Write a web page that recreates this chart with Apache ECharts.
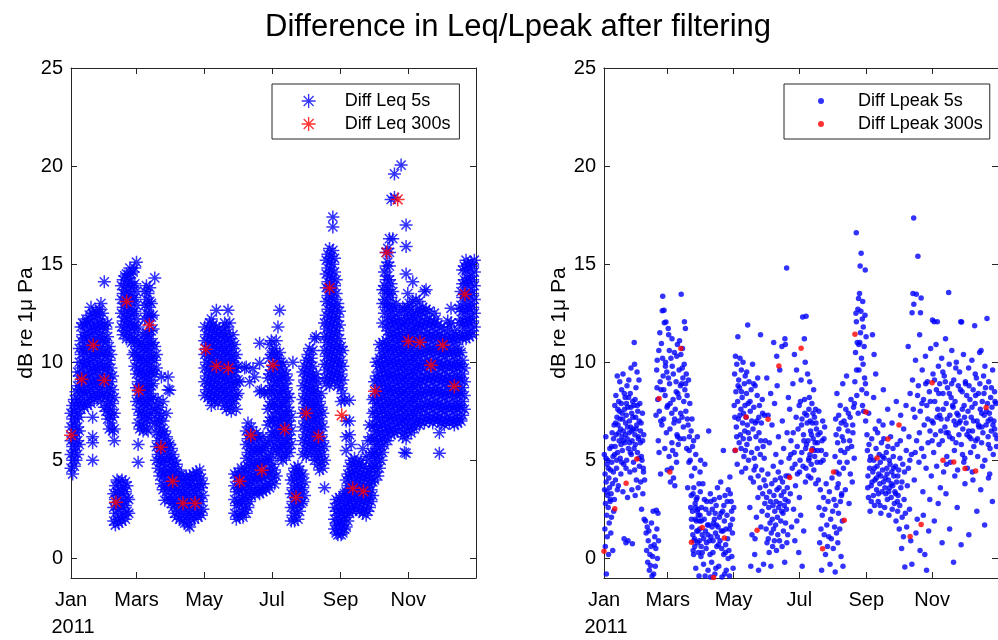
<!DOCTYPE html>
<html>
<head>
<meta charset="utf-8">
<script src="https://cdn.jsdelivr.net/npm/echarts@6/dist/echarts.min.js"></script>
<style>
  html, body { margin: 0; padding: 0; background: #ffffff; }
  #chart { width: 998px; height: 640px; }
</style>
</head>
<body>
<div id="chart"></div>
<script>
// Days are counted from 1 Jan 2011 (day 0) to 1 Jan 2012 (day 365).
const monthTicks = [0, 59, 120, 181, 243, 304];
const monthLabels = ['Jan', 'Mars', 'May', 'Jul', 'Sep', 'Nov'];
const yTicks = [0, 5, 10, 15, 20, 25];
const yearLabel = '2011';

// Diff Leq 5s: each column is [day, value, value, ...]
const leq5Jan = [
  [0, 4.6, 5.3, 6.0, 6.7, 7.4], [1.5, 4.3, 5.0, 5.7, 6.4, 7.1, 7.8], [3, 4.7, 5.4, 6.1, 6.8, 7.5, 8.1],
  [4.5, 5.0, 5.7, 6.4, 7.1, 7.8, 8.5], [6, 5.3, 6.0, 6.7, 7.4, 8.1, 8.8, 9.5],
  [7.5, 5.8, 6.5, 7.2, 7.9, 8.6, 9.3, 10.0, 10.7], [9, 7.6, 8.3, 9.0, 9.7, 10.4, 11.1, 11.8],
  [10.5, 7.9, 8.6, 9.3, 10.0, 10.7, 11.4, 12.0], [12, 7.7, 8.4, 9.1, 9.8, 10.5, 11.2, 11.9],
  [13.5, 8.0, 8.7, 9.4, 10.1, 10.8, 11.5, 12.2], [15, 7.8, 8.5, 9.2, 9.9, 10.6, 11.3, 12.0],
  [16.5, 8.2, 8.9, 9.6, 10.3, 11.0, 11.7, 12.4], [18, 7.9, 8.6, 9.3, 10.0, 10.7, 11.4, 12.1, 12.8],
  [19.5, 5.0, 5.9, 6.2, 7.2, 8.3, 9.0, 9.7, 10.4, 11.1, 11.8, 12.5], [21, 8.1, 8.8, 9.5, 10.2, 10.9, 11.6, 12.3],
  [22.5, 8.4, 9.1, 9.8, 10.5, 11.2, 11.9, 12.6], [24, 8.2, 8.9, 9.6, 10.3, 11.0, 11.7, 12.4],
  [25.5, 8.5, 9.2, 9.9, 10.6, 11.3, 12.0, 12.7], [27, 8.0, 8.7, 9.4, 10.1, 10.8, 11.5, 12.2, 13.0],
  [28.5, 8.3, 9.0, 9.7, 10.4, 11.1, 11.8, 12.5], [30, 7.7, 8.4, 9.1, 9.8, 10.5, 11.2, 11.9, 14.1]
];
const leq5Feb = [
  [31.5, 7.5, 8.2, 8.9, 9.6, 10.3, 11.0, 11.7], [33, 7.1, 7.8, 8.5, 9.2, 9.9, 10.6, 11.3, 12.0],
  [34.5, 6.6, 7.3, 8.0, 8.7, 9.4, 10.1, 10.8], [36, 6.9, 7.6, 8.3, 9.0, 9.7, 10.4],
  [37.5, 6.5, 7.2, 7.9, 8.6, 9.3], [39, 6.0, 6.6, 7.4, 8.2],
  [38.5, 1.9, 2.6, 3.3], [40, 1.7, 2.3, 3.0, 3.7], [41.5, 2.0, 2.7, 3.4, 4.0], [43, 1.8, 2.5, 3.2, 3.9],
  [44.5, 2.1, 2.8, 3.5], [46, 1.9, 2.6, 3.3, 4.0], [47.5, 2.2, 2.9, 3.6], [49, 2.0, 2.7, 3.4, 3.9],
  [50.5, 2.4, 3.1, 3.7], [52, 2.3, 3.0],
  [45.5, 11.8, 12.5, 13.2, 13.9], [47, 11.4, 12.1, 12.8, 13.5, 14.2], [48.5, 11.6, 12.3, 13.0, 13.7, 14.4],
  [50, 11.2, 11.9, 12.6, 13.3, 14.0, 14.5], [51.5, 11.5, 12.2, 12.9, 13.6, 14.3],
  [53, 11.3, 12.0, 12.7, 13.4, 14.1, 14.8], [54.5, 11.0, 11.7, 12.4, 13.1, 13.8, 14.5],
  [56, 10.4, 11.1, 11.8, 12.5, 13.2, 13.9, 14.6], [57.5, 9.8, 10.5, 11.2, 11.9, 12.6, 13.3, 14.0, 14.8]
];
const leq5Mar = [
  [59, 8.0, 8.7, 9.4, 10.1, 10.8, 11.5, 12.2, 12.9, 13.6, 15.1],
  [60.5, 4.9, 5.8, 6.9, 7.6, 8.3, 9.0, 9.7, 10.4, 11.1, 11.8], [62, 6.6, 7.3, 8.0, 8.7, 9.4, 10.1, 10.8],
  [63.5, 6.8, 7.5, 8.2, 8.9, 9.6, 10.3, 11.0], [65, 6.5, 7.2, 7.9, 8.6, 9.3, 10.0, 10.7, 11.4],
  [66.5, 6.9, 7.6, 8.3, 9.0, 9.7, 10.4, 11.1, 12.2, 12.9, 13.6],
  [68, 6.6, 7.3, 8.0, 8.7, 9.4, 10.1, 10.8, 11.5, 12.5, 13.2, 13.9],
  [69.5, 6.5, 7.2, 7.9, 8.6, 9.3, 10.0, 10.7, 11.4, 12.1, 12.8, 13.5],
  [71, 7.0, 7.7, 8.4, 9.1, 9.8, 10.5, 11.2, 12.4, 13.1, 13.8],
  [72.5, 7.4, 8.1, 8.8, 9.5, 10.2, 10.9, 11.6, 12.3, 13.0], [74, 8.2, 8.9, 9.6, 10.3, 11.0, 11.7, 12.4],
  [75.5, 6.9, 7.6, 9.4, 10.1, 10.8, 14.3], [77, 5.0, 5.7, 6.4, 7.1, 7.8, 9.7, 10.4],
  [78.5, 4.6, 5.3, 6.0, 6.7, 7.4, 8.1], [80, 4.2, 4.9, 5.6, 6.3, 7.0, 7.7],
  [81.5, 3.8, 4.5, 5.2, 5.9, 6.6, 7.3, 9.25], [83, 3.5, 4.2, 4.9, 5.6, 6.3, 7.0, 8.0],
  [84.5, 2.96, 3.7, 4.4, 5.1, 5.8, 6.5], [86, 3.4, 4.1, 4.8, 5.5, 6.2, 7.4],
  [87.5, 3.1, 3.8, 4.5, 5.2, 5.9, 9.25, 8.6], [89, 3.0, 3.7, 4.4, 5.1, 5.8, 8.57]
];
const leq5Apr = [
  [90.5, 2.8, 3.5, 4.2, 4.9, 5.6], [92, 2.6, 3.3, 4.0, 4.7, 5.3], [93.5, 2.3, 3.0, 3.7, 4.4, 5.0],
  [95, 2.1, 2.8, 3.5, 4.2, 4.8], [96.5, 2.4, 3.1, 3.8, 4.5], [98, 2.0, 2.7, 3.4, 4.1],
  [99.5, 2.2, 2.9, 3.6, 4.3], [101, 1.9, 2.6, 3.3, 4.0], [102.5, 1.8, 2.5, 3.2, 3.9],
  [104, 2.1, 2.8, 3.5, 4.2], [105.5, 1.7, 2.4, 3.1, 3.8], [107, 1.6, 2.3, 3.0, 3.7, 4.2],
  [108.5, 2.0, 2.7, 3.4, 4.0], [110, 2.2, 2.9, 3.6, 4.3], [111.5, 2.0, 2.6, 3.3, 4.0],
  [113, 2.3, 3.0, 3.7, 4.4], [114.5, 2.1, 2.8, 3.5, 4.2], [116, 2.4, 3.1, 3.8, 4.5],
  [117.5, 2.2, 2.9, 3.6, 4.1], [119, 2.5, 3.2, 3.8]
];
const leq5May = [
  [120.5, 8.3, 9.0, 9.7, 10.4, 11.1, 11.8], [122, 8.6, 9.3, 10.0, 10.7, 11.4],
  [123.5, 8.2, 8.9, 9.6, 10.3, 11.0, 11.7], [125, 8.5, 9.2, 9.9, 10.6, 11.3, 12.0],
  [126.5, 7.8, 8.1, 8.8, 9.5, 10.2, 10.9, 11.6, 12.2], [128, 8.4, 9.1, 9.8, 10.5, 11.2, 11.9],
  [129.5, 8.0, 8.7, 9.4, 10.1, 10.8, 11.5], [131, 8.3, 9.0, 9.7, 10.4, 11.1, 11.8, 12.65],
  [132.5, 7.9, 8.6, 9.3, 10.0, 10.7, 11.4], [134, 8.2, 8.9, 9.6, 10.3, 11.0, 11.7],
  [135.5, 8.5, 9.2, 9.9, 10.6, 11.3], [137, 8.1, 8.8, 9.5, 10.2, 10.9, 11.6],
  [138.5, 7.8, 8.5, 9.2, 9.9, 10.6, 11.3, 12.0], [140, 7.6, 8.3, 9.0, 9.7, 10.4, 11.1, 11.8],
  [141.5, 8.0, 8.7, 9.4, 10.1, 10.8, 11.5, 12.65], [143, 7.7, 8.4, 9.1, 9.8, 10.5, 11.2, 12.0],
  [144.5, 7.5, 8.2, 8.9, 9.6, 10.3, 11.0], [146, 7.9, 8.6, 9.3, 10.0, 10.7, 11.4],
  [147.5, 8.1, 8.8, 9.5, 10.2, 10.9, 2.3, 3.0, 3.7, 4.3], [149, 7.6, 8.3, 9.0, 9.7, 10.4, 2.0, 2.7, 3.4, 4.1],
  [150.5, 8.4, 9.1, 9.8, 2.2, 2.9, 3.6, 4.4]
];
const leq5Jun = [
  [152, 2.1, 2.8, 3.5, 4.2, 9.0], [153.5, 2.4, 3.1, 3.8, 4.6], [155, 2.1, 2.8, 3.5, 4.2],
  [156.5, 2.5, 3.2, 3.9, 4.6, 9.7], [158, 2.3, 3.0, 3.7, 4.4, 5.1, 5.8, 6.5, 9.76],
  [159.5, 2.6, 3.3, 4.0, 4.7, 5.4, 6.1, 6.9], [161, 2.9, 3.6, 4.3, 5.0, 5.7, 6.4, 9.0],
  [162.5, 3.2, 3.9, 4.6, 5.3, 6.0, 6.7], [164, 3.5, 4.2, 4.9, 5.6, 6.3, 9.68],
  [165.5, 3.3, 4.0, 4.7, 5.4, 6.1, 9.25], [167, 3.6, 4.3, 5.0, 5.7, 6.4], [168.5, 3.4, 4.1, 4.8, 5.5, 6.2],
  [170, 3.3, 4.0, 4.7, 5.4, 6.1, 8.5, 9.95, 10.97], [171.5, 3.6, 4.3, 5.0, 5.7, 8.57],
  [173, 3.4, 4.1, 4.8, 5.5, 6.2], [174.5, 3.7, 4.4, 5.1, 5.8, 8.4], [176, 3.5, 4.2, 4.9, 5.6],
  [177.5, 3.8, 4.5, 5.2, 5.9, 6.8, 7.6, 8.4, 9.2], [179, 3.6, 4.3, 5.0, 6.0, 7.0, 7.8, 8.6, 9.4, 10.2, 10.9]
];
const leq5Jul = [
  [180.5, 3.9, 4.6, 5.3, 6.4, 7.2, 8.0, 8.8, 9.6, 10.4, 11.1], [182, 4.1, 4.8, 5.6, 6.3, 7.0, 7.7, 8.4, 9.1, 9.8, 10.5],
  [183.5, 3.8, 4.5, 5.8, 6.5, 7.2, 7.9, 8.6, 9.3, 10.0, 10.7], [185, 4.2, 5.5, 6.2, 6.9, 7.6, 8.3, 9.0, 9.7, 10.4, 11.1],
  [186.5, 5.3, 6.0, 6.7, 7.4, 8.1, 8.8, 9.5, 10.2, 11.8], [188, 5.6, 6.3, 7.0, 7.7, 8.4, 9.1, 9.8, 10.5, 12.65],
  [189.5, 5.1, 5.8, 6.5, 7.2, 7.9, 8.6, 9.3, 10.0], [191, 5.0, 5.7, 6.4, 7.1, 7.8, 8.5, 9.2, 9.9],
  [192.5, 5.4, 6.1, 6.8, 7.5, 8.2, 8.9, 9.6], [194, 5.2, 5.9, 6.6, 7.3, 8.0, 8.7, 9.4],
  [195.5, 5.6, 6.3, 7.0, 7.7, 8.4, 9.1], [197, 5.4, 6.1, 6.8, 7.5, 8.2],
  [198.5, 5.8, 6.5, 7.2, 1.9, 2.6, 3.3, 4.0], [200, 2.2, 2.9, 3.6, 4.3, 10.0],
  [201.5, 1.9, 2.6, 3.3, 4.0, 4.6], [203, 2.3, 3.0, 3.7, 4.4], [204.5, 2.0, 2.7, 3.4, 4.1, 4.7],
  [206, 2.4, 3.1, 3.8, 4.5], [207.5, 2.8, 3.5, 4.2],
  [209, 2.9, 3.6, 4.3, 5.3, 6.0, 6.7, 7.4, 8.1, 8.8, 9.5], [210.5, 3.2, 3.9, 5.6, 6.3, 7.0, 7.7, 8.4, 9.1, 9.8]
];
const leq5Aug = [
  [212, 5.2, 5.9, 6.6, 7.3, 8.0, 8.7, 9.4, 10.1], [213.5, 5.5, 6.2, 6.9, 7.6, 8.3, 9.0, 9.7, 10.4],
  [215, 5.8, 6.5, 7.2, 7.9, 8.6, 9.3, 10.0, 10.7], [216.5, 5.3, 6.0, 6.7, 7.4, 8.1, 8.8, 9.5, 10.2],
  [218, 5.6, 6.3, 7.0, 7.7, 8.4, 9.1, 9.8, 10.6], [219.5, 5.0, 5.7, 6.4, 7.1, 7.8, 8.5, 9.2, 11.2],
  [221, 5.2, 5.9, 6.6, 7.3, 8.0, 8.7, 9.4, 11.3], [222.5, 4.8, 5.5, 6.2, 6.9, 7.6, 8.3, 9.0],
  [224, 4.5, 5.2, 5.9, 6.6, 7.3, 8.0], [225.5, 4.9, 5.6, 6.3, 7.0, 7.7, 8.4], [227, 4.6, 5.3, 6.0, 6.7, 7.4],
  [228.5, 3.6, 5.0, 5.7, 9.2, 9.9, 10.6, 11.3, 12.0],
  [230, 8.9, 9.6, 10.3, 11.0, 11.7, 12.4, 13.1, 13.8, 14.5, 15.2],
  [231.5, 9.2, 9.9, 10.6, 11.3, 12.0, 12.7, 13.4, 14.1, 14.8, 15.5],
  [233, 8.8, 9.5, 10.2, 10.9, 11.6, 12.3, 13.0, 13.7, 14.4, 15.1, 15.8],
  [234.5, 9.1, 9.8, 10.5, 11.2, 11.9, 12.6, 13.3, 14.0, 14.7, 15.4],
  [236, 9.4, 10.1, 10.8, 11.5, 12.2, 12.9, 13.6, 14.3, 15.0, 15.7, 16.9, 17.4],
  [237.5, 9.0, 9.7, 10.4, 11.1, 11.8, 12.5, 13.2, 13.9, 14.6, 15.3, 1.5, 2.0, 2.6],
  [239, 9.3, 10.0, 10.7, 11.4, 12.1, 12.8, 13.5, 14.2, 1.3, 1.8, 2.4, 3.0],
  [240.5, 8.8, 9.5, 10.2, 10.9, 11.6, 12.3, 13.0, 1.2, 1.7, 2.2, 2.8],
  [242, 9.1, 9.8, 10.5, 11.2, 11.9, 12.6, 1.4, 1.9, 2.5, 3.1]
];
const leq5Sep = [
  [243.5, 8.0, 8.7, 9.4, 10.1, 10.8, 1.2, 1.7, 2.3, 2.9], [245, 8.4, 9.1, 9.8, 10.6, 1.3, 1.9, 2.5, 3.2],
  [246.5, 8.06, 1.5, 2.1, 2.7, 3.3], [248, 5.5, 6.2, 7.0, 1.6, 2.2, 2.8, 3.4, 4.0],
  [249.5, 1.9, 2.5, 3.1, 3.7, 4.3], [251, 8.06, 7.0, 6.3, 2.3, 2.9, 3.5, 4.1, 4.7],
  [252.5, 2.6, 3.2, 3.8, 4.4, 5.0, 5.8], [254, 2.4, 3.0, 3.6, 4.2, 4.8], [255.5, 2.7, 3.3, 3.9, 4.5, 5.1],
  [257, 2.5, 3.1, 3.7, 4.3, 4.9], [258.5, 2.8, 3.4, 4.0, 4.6], [260, 2.4, 3.0, 3.6, 4.2, 4.8],
  [261.5, 2.6, 3.2, 3.8, 4.4, 5.0], [263, 2.3, 2.9, 3.5, 4.1, 4.7, 5.6], [264.5, 2.5, 3.1, 3.7, 4.3],
  [266, 2.2, 2.8, 3.4, 4.0, 4.6, 5.2], [267.5, 2.4, 3.0, 3.6, 4.2, 6.0], [269, 2.6, 3.2, 3.8, 4.4, 5.0, 6.8],
  [270.5, 2.9, 3.5, 4.1, 4.7, 5.4, 6.2], [272, 3.2, 3.9, 4.6, 5.3, 6.0, 6.7, 7.4, 8.1]
];
const leq5Oct = [
  [273.5, 4.0, 4.7, 5.4, 6.1, 6.8, 7.5, 8.2, 9.0], [275, 4.4, 5.1, 5.8, 6.5, 7.2, 7.9, 8.6, 9.3, 10.0],
  [276.5, 4.2, 4.9, 5.6, 6.3, 7.0, 7.7, 8.4, 9.1, 9.8], [278, 4.6, 5.3, 6.0, 6.7, 7.4, 8.1, 8.8, 9.5, 10.2, 10.9],
  [279.5, 5.0, 5.7, 6.4, 7.1, 7.8, 8.5, 9.2, 9.9, 10.6],
  [281, 5.4, 6.1, 6.8, 7.5, 8.2, 8.9, 9.6, 10.3, 11.0, 12.0, 13.0, 13.7],
  [282.5, 5.8, 6.5, 7.2, 7.9, 8.6, 9.3, 10.0, 10.7, 12.5, 13.2, 13.9, 14.6],
  [284, 6.2, 6.9, 7.6, 8.3, 9.0, 9.7, 10.4, 11.1, 11.8, 12.8, 13.5, 14.2, 14.9, 15.6],
  [285.5, 6.0, 6.7, 7.4, 8.1, 8.8, 9.5, 10.2, 10.9, 11.6, 12.3, 13.0, 13.7, 14.4, 15.1, 15.8],
  [287, 6.5, 7.2, 7.9, 8.6, 9.3, 10.0, 10.7, 11.4, 12.1, 12.8, 13.5, 14.2, 14.9, 15.6, 16.3],
  [288.5, 6.3, 7.0, 7.7, 8.4, 9.1, 9.8, 10.5, 11.2, 11.9, 12.6, 13.3, 14.0, 18.3],
  [290, 6.6, 7.3, 8.0, 8.7, 9.4, 10.1, 10.8, 11.5, 12.2, 12.9, 13.6, 16.3],
  [291.5, 6.4, 7.1, 7.8, 8.5, 9.2, 9.9, 10.6, 11.3, 12.0, 12.7, 18.4, 19.6],
  [293, 6.8, 7.5, 8.2, 8.9, 9.6, 10.3, 11.0, 11.7, 12.4, 13.0],
  [294.5, 6.5, 7.2, 7.9, 8.6, 9.3, 10.0, 10.7, 11.4, 12.1],
  [296, 6.9, 7.6, 8.3, 9.0, 9.7, 10.4, 11.1, 11.8, 12.6],
  [297.5, 6.6, 7.3, 8.0, 8.7, 9.4, 10.1, 10.8, 11.5, 12.2, 20.05],
  [299, 6.2, 7.0, 7.7, 8.4, 9.1, 9.8, 10.5, 11.2, 11.9, 12.8],
  [300.5, 5.4, 6.4, 7.1, 7.8, 8.5, 9.2, 9.9, 10.6, 11.3, 12.0, 12.7],
  [302, 5.36, 6.1, 6.8, 7.5, 8.2, 8.9, 9.6, 10.3, 11.0, 11.7, 12.4, 14.5, 15.9, 17.0]
];
const leq5Nov = [
  [303.5, 6.5, 7.2, 7.9, 8.6, 9.3, 10.0, 10.7, 11.4, 12.1, 12.8, 13.5],
  [305, 6.7, 7.4, 8.1, 8.8, 9.5, 10.2, 10.9, 11.6, 12.3, 13.0],
  [306.5, 6.4, 7.1, 7.8, 8.5, 9.2, 9.9, 10.6, 11.3, 12.0, 12.7],
  [308, 6.8, 7.5, 8.2, 8.9, 9.6, 10.3, 11.0, 11.7, 12.4, 13.1, 14.1],
  [309.5, 6.6, 7.3, 8.0, 8.7, 9.4, 10.1, 10.8, 11.5, 12.2],
  [311, 6.9, 7.6, 8.3, 9.0, 9.7, 10.4, 11.1, 11.8, 12.5, 13.2],
  [312.5, 7.1, 7.8, 8.5, 9.2, 9.9, 10.6, 11.3, 12.0, 12.7],
  [314, 6.8, 7.5, 8.2, 8.9, 9.6, 10.3, 11.0, 11.7, 12.4, 13.1],
  [315.5, 7.0, 7.7, 8.4, 9.1, 9.8, 10.5, 11.2, 11.9, 12.6],
  [317, 7.2, 7.9, 8.6, 9.3, 10.0, 10.7, 11.4, 12.1, 12.8],
  [318.5, 6.9, 7.6, 8.3, 9.0, 9.7, 10.4, 11.1, 11.8, 12.5, 13.6],
  [320, 7.1, 7.8, 8.5, 9.2, 9.9, 10.6, 11.3, 12.0, 12.7, 13.7],
  [321.5, 7.3, 8.0, 8.7, 9.4, 10.1, 10.8, 11.5, 12.2], [323, 7.0, 7.7, 8.4, 9.1, 9.8, 10.5, 11.2, 11.9, 12.6],
  [324.5, 7.2, 7.9, 8.6, 9.3, 10.0, 10.7, 11.4, 12.1], [326, 6.9, 7.6, 8.3, 9.0, 9.7, 10.4, 11.1, 11.8],
  [327.5, 7.1, 7.8, 8.5, 9.2, 9.9, 10.6, 11.3, 12.0, 12.5], [329, 7.3, 8.0, 8.7, 9.4, 10.1, 10.8, 11.5, 12.2],
  [330.5, 7.0, 7.7, 8.4, 9.1, 9.8, 10.5, 11.2, 11.9], [332, 5.36, 6.4, 7.2, 7.9, 8.6, 9.3, 10.0, 10.7, 11.4]
];
const leq5Dec = [
  [333.5, 6.9, 7.6, 8.3, 9.0, 9.7, 10.4, 11.1, 11.8], [335, 7.1, 7.8, 8.5, 9.2, 9.9, 10.6, 11.3],
  [336.5, 6.8, 7.5, 8.2, 8.9, 9.6, 10.3, 11.0, 11.7], [338, 7.0, 7.7, 8.4, 9.1, 9.8, 10.5, 11.2],
  [339.5, 7.2, 7.9, 8.6, 9.3, 10.0, 10.7, 11.4, 12.1], [341, 6.9, 7.6, 8.3, 9.0, 9.7, 10.4, 11.1, 11.8],
  [342.5, 7.1, 7.8, 8.5, 9.2, 9.9, 10.6, 11.3, 12.0, 12.75], [344, 7.0, 7.7, 8.4, 9.1, 9.8, 10.5, 11.2],
  [345.5, 6.8, 7.5, 8.2, 8.9, 9.6, 10.3, 11.0, 11.6], [347, 7.2, 7.9, 8.6, 9.3, 10.0, 10.7, 11.4],
  [348.5, 6.9, 7.6, 8.3, 9.0, 9.7, 10.4, 11.1], [350, 7.1, 7.8, 8.5, 9.2, 9.9, 10.6, 11.3, 12.0, 12.7],
  [351.5, 7.0, 7.7, 8.4, 9.1, 9.8, 10.5, 11.5, 12.2, 12.9, 13.6],
  [353, 7.3, 8.0, 8.7, 9.4, 10.1, 11.2, 11.9, 12.6, 13.3, 14.0, 14.7],
  [354.5, 7.6, 8.3, 9.0, 9.7, 11.4, 12.1, 12.8, 13.5, 14.2, 14.9],
  [356, 11.2, 11.9, 12.6, 13.3, 14.0, 14.7, 15.2], [357.5, 11.5, 12.2, 12.9, 13.6, 14.3, 15.0],
  [359, 11.3, 12.0, 12.7, 13.4, 14.1, 14.8], [360.5, 11.6, 12.3, 13.0, 13.7, 14.4, 15.1],
  [362, 11.4, 12.1, 12.8, 13.5, 14.2, 14.9], [363.5, 11.8, 12.5, 13.2, 13.9, 14.6, 15.2]
];

// Diff Leq 300s: [day, value]
const leq300 = [
  [0, 6.28], [9.6, 9.13], [20, 10.87], [30, 9.08], [40.5, 2.86], [50.2, 13.1], [61, 8.57], [70.6, 11.9],
  [81, 5.66], [91.6, 3.93], [101, 2.81], [111.8, 2.81], [121.4, 10.66], [131, 9.8], [141.8, 9.69],
  [152, 3.93], [162, 6.28], [172, 4.49], [182, 9.85], [192.6, 6.58], [202.8, 3.11], [212, 7.4],
  [223, 6.22], [233, 13.78], [244, 7.3], [254, 3.57], [263.5, 3.42], [274, 8.52], [284.5, 15.6],
  [294.4, 18.3], [304, 11.07], [314.5, 11.02], [324.4, 9.85], [335, 10.87], [345.5, 8.78], [355, 13.47]
];

// Diff Lpeak 5s: [day, value]
const lpeak5JanFeb = [
  [0.3,5.3],[0.5,3.5],[0.8,1.5],[1,4.3],[1.2,0.6],[1.4,2.8],[1.7,6.2],[2,3.9],[2.2,-0.8],[2.5,2.2],[2.8,4.8],[3,1.1],
  [3.3,3.2],[3.6,5.0],[3.9,2.6],[4.2,0.2],[4.5,4.1],[4.8,1.8],[5.1,3.6],[5.4,5.6],[5.7,2.9],[6,4.5],[6.3,1.3],[6.6,3.3],
  [6.9,2.1],[7.2,4.9],[7.5,6.4],[7.8,3.8],[8.1,0.4],[8.4,5.2],[8.7,4.4],[9,2.4],[9.3,6.8],[9.6,3.0],[10,7.8],[10.3,5.7],
  [10.6,4.0],[11,8.3],[11.3,6.3],[11.6,4.6],[12,7.2],[12.3,9.3],[12.6,5.4],[13,6.8],[13.3,3.7],[13.6,8.0],[14,6.0],
  [14.3,7.5],[14.6,9.0],[15,5.1],[15.3,6.6],[15.6,4.3],[16,7.9],[16.3,8.6],[16.6,6.2],[17,5.5],[17.3,7.1],[17.6,9.4],
  [18,6.5],[18.3,4.8],[18.6,1.0],[19,7.6],[19.3,5.9],[19.6,8.2],[20,6.9],[20.3,0.8],[20.6,7.3],[21,5.0],[21.3,8.8],
  [21.6,6.1],[22,7.7],[22.3,0.9],[22.6,5.6],[23,9.1],[23.3,6.4],[23.6,7.0],[24,4.4],[24.3,8.4],[24.6,6.7],[25,9.7],
  [25.3,5.3],[25.6,7.4],[26,6.0],[26.3,0.75],[26.6,8.0],[27,6.6],[27.3,4.9],[27.6,7.8],[28,11.0],[28.3,9.9],[28.6,6.3],
  [29,5.8],[29.3,7.2],[29.6,8.7],[30,4.0],[30.3,6.8],[30.6,9.5],[31,5.4],[31.3,7.5],[31.6,3.6],[32,6.2],[32.4,9.1],
  [32.8,4.7],[33.2,7.9],[33.6,5.9],[34,3.9],[34.4,6.9],[34.8,2.5],[35.2,5.0],[35.6,7.4],[36,3.3],[36.4,4.6],[36.8,6.3],
  [37.2,2.0],[37.6,4.0],[17.5,3.4],[21.8,3.1],[25.8,3.5],[28.9,3.2],
  [8.8,6.1],[9.9,5.3],[10.8,6.9],[11.8,5.0],[12.8,7.6],[13.8,6.4],[14.8,7.1],[15.8,5.8],[16.8,7.4],[17.8,6.0],
  [18.8,8.4],[19.8,6.3],[20.8,7.9],[21.8,6.7],[22.8,8.2],[23.8,5.9],[24.8,7.7],[25.8,6.5],[26.8,7.2],[27.8,5.6],
  [28.8,8.1],[29.8,6.6],[30.8,7.8],[31.8,6.1],[32.6,7.0],[33.8,6.5],[34.6,5.2],[35.8,6.0],[36.6,4.4],[7.0,5.7],
  [5.9,3.0],[4.0,4.6],[2.7,3.4],[1.9,5.1],[12.4,3.5],[16.4,4.9],[20.4,4.6],[24.4,5.4],[28.4,4.5],[32.2,5.1],
  [38.5,1.9],[39,1.3],[39.5,0.4],[40,1.6],[40.5,-0.2],[41,0.9],[41.5,1.4],[42,-0.6],[42.5,0.2],[43,-0.36],[43.5,0.6],
  [44,1.8],[44.5,-0.9],[45,0.1],[45.5,2.4],[46,-0.8],[46.5,0.7],[47,1.1],[47.5,-0.4],[48,0.5],[48.5,2.45],[49,1.5],
  [49.5,0.0],[50,2.3],[50.5,0.9],
  [48.2,7.3],[48.8,9.6],[49.3,10.1],[49.8,8.1],[50.3,6.0],[50.8,10.6],[51.2,7.5],[51.7,11.5],[52,9.0],[52.4,4.3],
  [52.8,8.6],[53.2,10.95],[53.6,6.8],[54,12.62],[54.4,13.37],[54.8,9.3],[55.2,7.1],[55.6,12.65],[55.9,12.01],[56.3,5.6],
  [56.6,8.3],[57,10.0],[57.4,12.05],[57.8,6.4],[58.2,9.5],[58.6,4.5],
  [49.1,8.7],[51,5.4],[52.6,7.0],[54.2,10.2],[55.4,8.6],[56.9,9.8],[58.4,7.7]
];
const lpeak5MarApr = [
  [59,7.8],[59.5,11.72],[59.9,11.4],[60.3,5.2],[60.7,8.9],[61.1,6.6],[61.5,3.9],[62,10.2],[62.4,4.6],[62.8,7.4],
  [63.2,9.8],[63.6,5.5],[64,8.1],[64.4,4.1],[64.8,6.9],[65.2,10.5],[65.6,3.7],[66,7.6],[66.4,5.3],[66.8,9.0],[67.2,4.9],
  [67.6,6.3],[68,10.9],[68.4,8.4],[68.8,5.8],[69.2,7.0],[69.6,9.6],[70,11.1],[70.4,6.1],[70.8,8.8],[71.2,10.4],
  [71.5,13.47],[71.9,8.9],[72.3,7.2],[72.7,10.7],[73.1,9.2],[73.5,6.7],[73.9,8.0],[74.3,9.9],[74.5,12.06],[74.9,8.6],
  [75.4,11.72],[75.8,7.5],[76.2,9.4],[76.6,5.6],[77,8.3],[77.5,3.6],[77.9,6.8],[78.3,9.1],[78.7,4.9],[79.1,6.2],
  [79.5,7.9],[79.9,5.0],[80.3,2.6],[80.7,6.5],[81.1,4.2],[81.5,7.1],[82,5.7],[82.5,3.3],[83,6.0],[83.5,0.9],[84,4.6],
  [84.5,2.0],[85,5.3],[85.5,3.0],[86,1.4],[86.5,6.2],[87,2.5],[87.5,0.3],[88,3.8],[88.5,1.9],[89,4.4],[89.5,5.0],[90,0.6],
  [59.7,9.2],[61.3,7.9],[62.9,5.9],[64.2,9.4],[65.4,7.1],[66.9,8.5],[68.2,6.2],[69.4,8.2],[71,7.4],[72.5,9.7],[74,6.1],
  [75.6,8.9],[77.2,7.1],[78.9,5.5],[60.5,10.6],[63,11.2],[67.4,10.3],
  [80.8,3.2],[81.4,1.6],[82,2.4],[82.6,0.4],[83.2,3.6],[83.8,1.0],[84.4,2.8],[85,-0.5],[85.6,1.9],[86.2,3.1],[86.8,0.8],
  [87.4,2.2],[88,-0.9],[88.6,1.5],[89.2,3.4],[89.8,0.1],[90.4,2.6],[91,1.2],[91.6,3.8],[92.2,-0.3],[92.8,2.0],[93.4,4.8],
  [94,1.4],[94.6,0.5],[95.2,2.9],[95.8,1.7],[96.4,-0.6],[97,6.5],[97.3,2.3],[97.9,0.9],[98.5,3.3],[99.1,1.1],[99.7,-0.2],
  [100.3,2.5],[100.9,0.3],[101.5,1.8],[102.1,3.0],[102.7,-0.8],[103.3,1.3],[103.9,2.7],[104.5,0.6],[105.1,3.6],
  [105.7,1.6],[106.3,-0.4],[106.9,2.1],[107.5,0.9],[108.1,3.9],[108.7,1.4],[109.3,-0.95],[109.9,2.4],[110.6,5.5],
  [110.9,0.2],[111.5,1.9],[112.1,3.2],[112.7,0.7],[113.3,-0.6],[113.9,2.2],[114.5,1.0],[115.1,3.5],[115.7,0.4],
  [116.3,-0.9],[116.6,4.15],[117.2,1.7],[117.8,2.9],[118.4,0.1],[119,1.3],[119.6,-0.5],[120.2,2.6],
  [81,2.0],[83,0.2],[85,2.6],[87,1.4],[89,2.2],[91,0.3],[93,3.0],[95,0.8],[97,1.7],[99,2.9],[101,0.9],[103,2.3],
  [105,1.1],[107,3.1],[109,0.5],[111,2.7],[113,1.5],[115,0.0],[117,3.3],[119,2.0],
  [82.3,1.2],[84.1,0.6],[86.4,2.4],[88.3,0.9],[90.2,1.9],[92.4,1.0],[94.3,2.5],[96.2,1.2],[98.2,0.2],[100.1,1.6],
  [102.3,2.0],[104.2,1.7],[106.1,0.7],[108.3,2.3],[110.2,1.4],[112.4,0.3],[114.2,2.9],[116.1,1.5],[118.2,2.4],
  [93.7,-0.9],[103.6,-0.5],[111.8,-0.8],[98.8,-0.95]
];
const lpeak5MayJun = [
  [120.6,7.8],[121,9.4],[121.4,5.5],[121.8,10.3],[122.2,8.5],[122.6,6.7],[123,9.9],[123.4,4.8],[123.8,8.0],[124,11.3],
  [124.4,7.1],[124.8,9.1],[125.2,5.9],[125.6,8.7],[126,10.2],[126.4,6.3],[126.8,7.6],[127.2,9.6],[127.6,4.4],[128,8.2],
  [128.4,6.9],[128.8,10.0],[129.2,7.4],[129.6,5.2],[130,8.9],[130.4,6.5],[130.8,9.3],[131.2,4.6],[131.6,7.2],[132,8.4],
  [132.4,5.8],[132.8,6.8],[133.1,11.9],[133.5,7.9],[133.9,5.0],[134.3,9.0],[134.7,6.1],[135.1,2.6],[135.5,7.5],
  [135.9,4.1],[136.3,8.6],[136.7,5.4],[137.1,1.2],[137.6,9.9],[138,6.6],[138.4,3.9],[138.8,7.7],[139.2,5.1],[139.6,0.2],
  [140,8.8],[140.4,4.7],[140.8,6.2],[141.2,2.1],[141.6,7.0],[142,5.6],[142.4,9.2],[142.8,4.2],[143.2,-0.6],[143.6,6.4],
  [144,7.8],[144.4,3.6],[144.8,5.3],[145,11.4],[145.4,1.6],[145.8,6.9],[146.2,4.5],[146.6,8.1],[147,3.3],[147.4,5.7],
  [147.8,-0.3],[148.2,4.0],[148.6,7.3],[149,2.8],[149.4,6.0],[149.8,3.7],
  [121.2,7.2],[122.9,6.2],[124.2,8.8],[125.9,7.3],[127.4,8.5],[129,6.1],[130.6,7.8],[132.2,9.5],[133.7,6.4],[135.3,8.0],
  [136.9,7.0],[138.6,8.9],[140.2,6.9],[141.9,8.3],[143.4,7.2],[145.2,6.0],[146.9,7.4],[148.4,5.1],[127,5.6],[131,5.5],
  [139,4.5],[142.6,3.1],[146.4,2.4],[139.9,1.0],[136,-0.4],
  [150.2,1.5],[150.6,3.1],[151,0.8],[151.4,2.2],[151.8,4.3],[152.2,1.0],[152.6,2.6],[153,0.3],[153.4,3.4],[153.8,1.8],
  [154.2,2.9],[154.6,-0.4],[155,1.3],[155.4,3.8],[155.8,2.0],[156.2,0.6],[156.6,2.7],[157,1.5],[157.4,3.2],[157.8,0.9],
  [158.2,2.4],[158.6,4.0],[159,1.7],[159.4,2.9],[159.8,0.4],[160.2,3.5],[160.6,2.1],[161,1.2],[161.4,4.4],[161.8,2.6],
  [162.2,3.6],[162.6,0.9],[163,2.8],[163.4,4.1],[163.8,1.9],[164.2,3.2],[164.6,2.4],[165,0.6],[165.4,3.9],[165.8,2.3],
  [166.2,1.4],[166.6,3.4],[167,2.7],[167.4,-0.2],[167.8,3.0],[168.2,1.8],[168.6,4.2],[169,2.5],[169.4,0.8],[169.8,3.6],
  [170.2,1.2],[170.6,2.9],
  [150.8,9.2],[152,7.3],[153.2,5.9],[154.4,8.4],[155.6,6.8],[156.8,4.7],[158,7.9],[159.2,5.3],[160.4,8.8],[161.6,6.2],
  [162.8,9.6],[164,4.9],[165.2,7.0],[166.4,5.6],[167.6,11.2],[168,10.9],[169.2,14.8],[169.6,6.4],[170.8,8.2],
  [171.4,5.1],[172,7.6],[172.6,3.3],[173.2,6.0],[173.8,1.6],[174.4,4.6],[175,8.9],[175.6,2.5],[176.2,5.4],[176.8,0.9],
  [177.4,3.7],[178,7.2],[178.6,1.9],[179.2,4.3],[179.8,6.6],[180.4,0.3],
  [171,4.2],[173,5.3],[175.3,6.4],[177,4.8],[179,5.7],[178.4,9.6],[176.4,10.4],[160,10.3],[157.2,11.0],[164.8,10.8]
];
const lpeak5JulAug = [
  [181,3.1],[181.6,5.0],[182.2,2.2],[182.6,9.1],[183,6.8],[183.6,-0.4],[184,12.3],[184.4,4.7],[185,1.4],[185.6,11.2],
  [186,7.4],[186.6,3.9],[187.2,12.35],[187.6,5.8],[188.2,6.9],[188.6,9.4],[189.2,4.2],[189.8,7.6],[190.2,8.2],
  [190.8,5.3],[191.4,6.5],[192,4.8],[192.6,7.9],[193.2,5.6],[193.8,6.1],[194.4,4.5],[195,7.2],[195.6,5.9],[196.2,3.8],
  [196.8,6.6],[197.4,4.9],[198,5.5],[198.6,4.0],
  [180.8,7.8],[182,8.0],[183.4,7.1],[184.8,6.3],[185.8,8.1],[186.8,5.6],[187.8,7.3],[189,6.0],[190,5.1],[191,7.0],
  [192.2,6.3],[193.6,7.4],[195.2,5.2],[196.4,6.9],[197.8,5.9],[199,7.5],[200.2,6.4],[201.4,5.5],[202.6,7.0],[203.8,6.1],
  [181.2,4.4],[183.2,5.4],[185.2,6.0],[187,4.6],[189.6,5.0],[191.6,4.1],[193,6.9],[194.8,5.5],[196,7.6],[198.2,6.3],
  [200.8,4.9],[202,6.0],[203,5.0],[204.4,6.7],[205.5,5.3],[186.4,10.0],[190.6,9.0],[194.2,8.6],
  [199.2,2.6],[199.8,0.8],[200.4,3.5],[201,1.5],[201.6,-0.6],[202.2,2.2],[203.4,3.1],[204,1.2],[204.6,2.5],[205.2,0.2],
  [205.8,3.8],[206.4,1.7],[207,0.6],[207.6,2.9],[208.2,1.1],[208.8,3.4],[209.4,-0.3],[210,2.0],[210.6,1.0],[211.2,4.1],
  [211.8,2.4],[212.4,0.5],[213,3.0],[213.6,1.6],[214.2,-0.7],[214.8,2.7],[215.4,1.3],[216,3.6],[216.6,0.8],[217.2,2.3],
  [217.8,4.3],[218.4,1.5],[219,2.9],[219.6,0.1],[220.2,3.3],[220.8,1.9],[221.4,-0.4],
  [214,5.2],[214.6,7.1],[215.2,4.4],[215.8,8.4],[216.4,5.9],[217,3.8],[217.6,6.6],[218.2,4.9],[218.8,7.8],[219.4,5.5],
  [220,3.2],[220.6,6.2],[221.2,8.9],[221.8,4.6],[222.4,7.0],[223,5.4],[223.6,3.5],[224.2,6.8],[224.7,9.3],[225.2,4.9],
  [225.8,5.6],[226.4,7.4],[227,2.8],[227.6,6.0],[228.2,4.3],[228.8,8.1],[229.4,5.7],[230,3.9],[230.6,6.4],[231.2,7.7],
  [231.8,5.1],[232.4,9.0],[233,10.5],[233.4,12.5],[233.7,16.6],[233.8,12.06],[234.2,8.3],[234.6,11.0],[235.2,12.7],
  [235.8,13.25],[236.2,9.6],[236.7,13.5],[237.3,14.9],[237.6,11.5],[238.2,15.55],[238.5,10.2],[238.9,8.6],[239.3,12.2],
  [239.7,13.1],[240.2,11.8],[240.6,7.5],[241,10.8],[241.4,9.2],[242,14.7],[242.4,7.0],[242.8,11.3],
  [215,6.3],[217.4,7.3],[219.8,6.9],[222,6.0],[224,7.6],[226,6.5],[228,7.2],[230.4,6.8],[232,7.9],[234,9.6],[236,10.9],
  [238,12.6],[240,9.9],[242.2,8.9],[235.5,7.4],[239.5,7.8],[241.8,12.4],[237,11.0]
];
const lpeak5SepOct = [
  [243.2,8.4],[243.6,6.3],[244,5.5],[244.5,4.2],[245,3.1],[245.5,5.8],[246,4.6],[246.5,2.4],[247,5.2],[247.5,3.7],
  [248,6.1],[248.7,11.4],[249,4.4],[249.5,3.2],[250,5.0],[250.2,10.4],[250.6,2.7],[251,4.0],[251.7,9.4],[252,5.6],
  [252.5,3.5],[253,4.7],[253.5,6.4],[254,2.9],[254.5,4.3],[255,5.3],[255.5,3.8],[256,4.9],[256.5,2.3],[257,5.9],
  [257.5,3.4],[258,4.5],[258.5,6.8],[259,3.9],[259.5,5.1],[260,2.6],[260.5,4.1],[261,3.3],[261.5,5.4],[262,4.6],
  [262.5,3.0],[263,5.7],[263.5,4.0],[264,2.2],[264.5,3.6],[265,4.8],[265.5,6.2],[266,3.1],[266.5,4.4],[267,2.5],
  [267.5,3.7],[268,5.2],[268.5,4.2],[269,2.8],[269.5,3.4],[270,4.7],[270.5,1.9],[271,3.9],[271.5,5.8],[272,2.4],
  [272.5,3.2],[273,4.5],[273.5,1.5],[274,2.7],[274.5,6.0],[275,3.6],[275.7,0.5],[276.2,2.1],[276.8,4.8],[277.4,1.1],
  [278,3.0],[278.7,-0.44],[279.2,2.3],[279.8,7.8],[280.4,1.6],[281,3.7],[281.8,10.8],
  [245.2,7.4],[249.8,8.2],[254.8,7.0],[258.8,8.6],[262.8,7.6],[266.8,6.9],[270.8,8.0],[274.8,7.3],[277.6,6.6],
  [244.3,3.6],[246.2,5.0],[248.3,3.9],[250.4,4.6],[252.3,4.1],[254.2,3.3],[256.3,4.2],[258.2,5.2],[260.2,3.6],
  [262.2,4.3],[264.3,5.0],[266.2,3.8],[268.2,4.6],[270.2,3.3],[272.2,4.2],[274.2,5.1],[276,3.9],[278.4,4.4],[280,5.5],
  [282,4.6],[247.6,2.9],[255.8,2.7],[263.8,3.4],[271.8,2.9],[259.2,6.1],[267.7,5.6],[251.3,6.6],
  [282.5,6.2],[283,2.5],[283.6,8.4],[284.2,0.9],[284.8,5.3],[285.4,12.52],[285.8,9.1],[286.2,13.5],[286.9,17.35],
  [287,12.96],[287.4,4.0],[288,7.2],[288.6,10.1],[289.3,13.47],[289.6,6.0],[290.2,2.0],[290.8,15.4],[291.2,8.8],
  [291.8,4.9],[292.4,11.4],[293,7.5],[293.2,12.52],[293.8,13.27],[294.2,5.6],[294.8,9.6],[295.4,3.4],[296,8.1],
  [296.6,6.8],[297.2,0.2],[297.8,10.3],[298.4,4.6],[299,7.8],[299.6,9.0],[300.2,5.9],[300.8,1.4],[301.4,8.5],[302,6.5],
  [302.6,10.7],[303.2,4.2],[303.8,7.0],
  [285.2,-0.3],[289,1.3],[292.8,0.4],[295.8,2.2],[298.8,-0.6],[301.8,3.0],
  [283.3,5.0],[286.5,7.6],[288.3,5.4],[290.5,8.3],[292.2,6.4],[294.5,7.9],[296.3,5.2],[298,8.9],[300,7.1],[302.3,8.0]
];
const lpeak5NovDec = [
  [304.3,12.15],[304.8,9.4],[305.4,5.4],[305.8,12.06],[306.4,8.0],[307,6.3],[307.6,10.9],[308.2,4.7],[308.8,12.06],
  [309.2,7.6],[309.8,9.8],[310.4,5.8],[311,8.9],[311.6,3.6],[312.2,7.1],[312.8,10.2],[313.4,6.0],[314,8.4],[314.6,4.4],
  [315.2,9.3],[315.8,6.7],[316.4,11.2],[317,7.9],[317.6,5.2],[318.2,8.7],[318.8,6.4],[319.3,13.56],[319.8,9.9],
  [320.4,7.3],[321,4.9],[321.6,8.2],[322.2,10.6],[322.8,6.1],[323.4,7.7],[324,9.1],[324.6,5.5],[325.2,8.0],[325.8,6.8],
  [326.4,10.0],[327,7.4],[327.6,4.5],[328.2,8.8],[328.8,6.3],[329.4,9.5],[330,7.0],[330.5,12.06],[331,5.8],
  [331.3,12.05],[331.8,8.5],[332.4,6.6],[333,10.4],[333.6,7.8],[334.2,5.1],[334.8,9.0],[335.4,6.9],[336,8.3],
  [336.6,4.6],[337.2,7.5],[337.8,9.7],[338.4,6.2],[339,8.1],[339.6,5.4],[340.2,7.2],[340.8,10.1],[341.4,6.5],[342,8.6],
  [342.6,5.7],[343.4,11.86],[343.8,7.9],[344.4,6.0],[345,9.2],[345.6,7.0],[346.2,5.2],[346.8,8.4],[347.4,6.7],
  [348,10.5],[348.6,7.6],[349.3,10.6],[349.8,5.9],[350.4,8.0],[351,6.4],[351.6,9.3],[352.2,7.3],[352.8,5.0],
  [353.4,8.7],[354,6.8],[354.8,12.23],[355.2,7.9],[355.8,6.2],[356.4,9.0],[357,7.4],[357.6,5.6],[358.2,8.2],
  [358.8,6.5],[359.4,7.7],[360,9.6],[360.6,5.3],[361.2,7.0],[361.8,8.5],[362.4,6.3],
  [306,1.9],[309.6,2.8],[313.2,0.8],[316.8,3.3],[320.2,1.5],[323.8,-0.2],[327.2,2.6],[330.8,0.7],[334.4,3.8],
  [338,1.2],[341.8,4.0],[345.4,2.4],[349,3.5],[352.6,1.7],[356.2,4.1],[359.8,2.9],
  [305,6.9],[307.9,8.6],[310.9,7.3],[313.9,9.5],[316.9,6.4],[319.9,8.4],[322.9,7.8],[325.9,9.7],[328.9,6.9],
  [331.9,7.6],[334.9,8.9],[337.9,6.5],[340.9,7.7],[343.9,9.4],[346.9,6.8],[349.9,7.4],[352.9,9.8],[355.9,7.0],
  [358.9,8.7],[361.9,6.6],[363,7.9],[364,6.1],
  [304,6.0],[306.2,9.1],[308.5,7.2],[310.2,8.4],[312,6.5],[314.3,7.6],[316.2,9.0],[318,7.1],[320.1,6.2],[322,8.9],
  [324.3,7.0],[326.1,5.9],[328.1,7.3],[330.2,8.6],[332.1,5.3],[334,7.2],[336.2,6.3],[338.2,8.8],[340,6.1],[342.3,7.0],
  [344.2,8.3],[346,6.1],[348.2,8.9],[350.1,6.7],[352,8.4],[354.3,7.5],[356.1,5.8],[358,7.1],[360.3,6.8],[362.2,8.0],
  [363.6,5.7],[317.3,4.8],[325,4.2],[333.3,4.9],[341.2,4.4],[350.7,4.7],[357.3,4.3]
];

// Diff Lpeak 300s: [day, value]
const lpeak300 = [
  [0, 0.37], [10, 2.53], [20.5, 3.83], [30.4, 5.07], [51, 8.15], [61, 4.4], [71.2, 10.7], [81, 0.82], [91, 1.58],
  [101.5, -0.98], [111.5, 1.04], [121.7, 5.51], [131.6, 7.21], [141.8, 1.43], [152, 7.09], [162, 9.81], [172, 4.12],
  [182.6, 10.71], [192.3, 5.51], [202.5, 0.49], [212.7, 4.4], [222.6, 1.94], [232.5, 11.43], [242.7, 7.46],
  [253, 5.12], [263, 6.09], [273.3, 6.8], [283.6, 1.12], [293.8, 1.73], [304, 8.95], [314, 5.0], [324, 4.92],
  [334.4, 4.58], [344.3, 4.46], [354, 7.69]
];

// Flatten [day, v1, v2, ...] columns into [day, value] points
function columnsToPoints(cols) {
  const out = [];
  cols.forEach(c => { for (let i = 1; i < c.length; i++) out.push([c[0], c[i]]); });
  return out;
}

const leq5 = columnsToPoints([].concat(leq5Jan, leq5Feb, leq5Mar, leq5Apr, leq5May, leq5Jun,
  leq5Jul, leq5Aug, leq5Sep, leq5Oct, leq5Nov, leq5Dec));
const lpeak5 = [].concat(lpeak5JanFeb, lpeak5MarApr, lpeak5MayJun, lpeak5JulAug, lpeak5SepOct, lpeak5NovDec);

const FONT = 'Liberation Sans, Arial, Helvetica, sans-serif';
const AXIS_COLOR = '#262626';
const STAR = 'path://M0,-10L0,10M-10,0L10,0M-7.07,-7.07L7.07,7.07M-7.07,7.07L7.07,-7.07';
const BLUE = '#0000ff';
const RED = '#ff0000';

const grids = [
  { left: 71, top: 68, width: 405, height: 510 },
  { left: 604, top: 68, width: 405, height: 510 }
];

function xAxes(gi) {
  const base = {
    gridIndex: gi, type: 'value', min: 0, max: 365,
    axisLine: { show: true, onZero: false, lineStyle: { color: AXIS_COLOR, width: 1 } },
    splitLine: { show: false }
  };
  return [
    Object.assign({}, base, {
      position: 'bottom',
      axisTick: { show: true, inside: true, length: 6, customValues: monthTicks, lineStyle: { color: AXIS_COLOR } },
      axisLabel: {
        show: true, customValues: monthTicks, margin: 12,
        formatter: v => monthLabels[monthTicks.indexOf(v)],
        color: '#000', fontSize: 20, fontFamily: FONT
      }
    }),
    Object.assign({}, base, {
      position: 'top',
      axisTick: { show: true, inside: true, length: 6, customValues: monthTicks, lineStyle: { color: AXIS_COLOR } },
      axisLabel: { show: false }
    })
  ];
}

function yAxes(gi) {
  const base = {
    gridIndex: gi, type: 'value', min: -1, max: 25,
    axisLine: { show: true, onZero: false, lineStyle: { color: AXIS_COLOR, width: 1 } },
    splitLine: { show: false }
  };
  return [
    Object.assign({}, base, {
      position: 'left',
      name: 'dB re 1\u03bc Pa', nameLocation: 'middle', nameGap: 18,
      nameTextStyle: { color: '#000', fontSize: 21, fontFamily: FONT },
      axisTick: { show: true, inside: true, length: 6, customValues: yTicks, lineStyle: { color: AXIS_COLOR } },
      axisLabel: { show: true, customValues: yTicks, margin: 8, color: '#000', fontSize: 20, fontFamily: FONT }
    }),
    Object.assign({}, base, {
      position: 'right',
      axisTick: { show: true, inside: true, length: 6, customValues: yTicks, lineStyle: { color: AXIS_COLOR } },
      axisLabel: { show: false }
    })
  ];
}

const starStyle = (color, w) => ({ color: 'rgba(0,0,0,0)', borderColor: color, borderWidth: w });

const legendBase = {
  orient: 'vertical', top: 84, itemWidth: 14, itemHeight: 14, itemGap: 5,
  selectedMode: false, backgroundColor: '#ffffff',
  borderColor: AXIS_COLOR, borderWidth: 1, borderRadius: 0
};

const option = {
  animation: false,
  backgroundColor: '#ffffff',
  title: {
    text: 'Difference in Leq/Lpeak after filtering',
    left: 265, top: 12, padding: 0,
    textStyle: { color: '#000', fontSize: 31, fontWeight: 'normal', fontFamily: FONT }
  },
  legend: [
    Object.assign({}, legendBase, {
      left: 272, padding: [8, 9, 6, 29],
      textStyle: { color: '#000', fontSize: 18, lineHeight: 18, fontFamily: FONT, padding: [0, 0, 0, 24] },
      data: [
        { name: 'Diff Leq 5s', icon: STAR, itemStyle: starStyle(BLUE, 1.3) },
        { name: 'Diff Leq 300s', icon: STAR, itemStyle: starStyle(RED, 1.3) }
      ]
    }),
    Object.assign({}, legendBase, {
      left: 784, padding: [8, 7, 6, 34], itemWidth: 6, itemHeight: 6, itemGap: 5,
      textStyle: { color: '#000', fontSize: 18, lineHeight: 18, fontFamily: FONT, padding: [0, 0, 0, 29] },
      data: [
        { name: 'Diff Lpeak 5s', icon: 'circle', itemStyle: { color: BLUE } },
        { name: 'Diff Lpeak 300s', icon: 'circle', itemStyle: { color: RED } }
      ]
    })
  ],
  grid: grids,
  xAxis: [].concat(xAxes(0), xAxes(1)),
  yAxis: [].concat(yAxes(0), yAxes(1)),
  graphic: [
    { type: 'text', x: 73, y: 627, style: { text: yearLabel, fill: '#000', fontSize: 20, fontFamily: FONT, textAlign: 'center', textVerticalAlign: 'middle' } },
    { type: 'text', x: 606, y: 627, style: { text: yearLabel, fill: '#000', fontSize: 20, fontFamily: FONT, textAlign: 'center', textVerticalAlign: 'middle' } }
  ],
  series: [
    {
      name: 'Diff Leq 5s', type: 'scatter', xAxisIndex: 0, yAxisIndex: 0, clip: true, silent: true,
      symbol: STAR, symbolSize: 13, itemStyle: starStyle(BLUE, 1.5), data: leq5
    },
    {
      name: 'Diff Leq 300s', type: 'scatter', xAxisIndex: 0, yAxisIndex: 0, clip: true, silent: true,
      symbol: STAR, symbolSize: 14, itemStyle: starStyle(RED, 1.5), data: leq300
    },
    {
      name: 'Diff Lpeak 5s', type: 'scatter', xAxisIndex: 2, yAxisIndex: 2, clip: true, silent: true,
      symbol: 'circle', symbolSize: 5.5, itemStyle: { color: BLUE }, data: lpeak5
    },
    {
      name: 'Diff Lpeak 300s', type: 'scatter', xAxisIndex: 2, yAxisIndex: 2, clip: true, silent: true,
      symbol: 'circle', symbolSize: 5.5, itemStyle: { color: RED }, data: lpeak300
    }
  ]
};

const chart = echarts.init(document.getElementById('chart'), null, { renderer: 'canvas' });
chart.setOption(option);
</script>
</body>
</html>
